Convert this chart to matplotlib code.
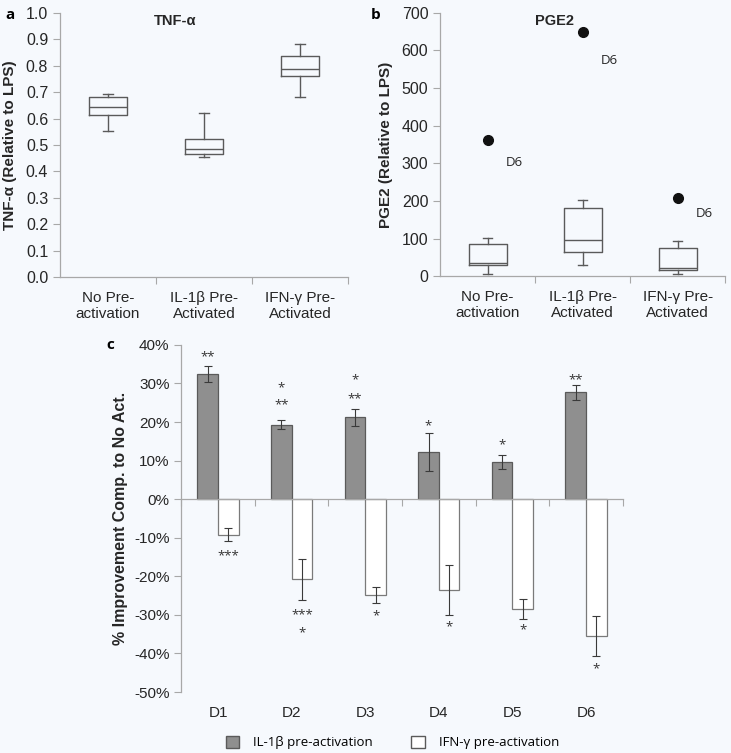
import matplotlib
matplotlib.use("Agg")
import matplotlib.pyplot as plt
from matplotlib.patches import Patch
import numpy as np

plt.rcParams['font.family'] = ['Liberation Sans', 'DejaVu Sans']
BG = '#f6f9fd'
SPINE = '#a8a8a8'
TXT = '#262626'
ALT = ['Open Sans', 'DejaVu Sans']

# panel a - TNF-alpha box stats
groups = ['No Pre-\nactivation', 'IL-1\u03b2 Pre-\nActivated', 'IFN-\u03b3 Pre-\nActivated']
tnf_low = [0.553, 0.453, 0.683]
tnf_q1 = [0.614, 0.466, 0.761]
tnf_med = [0.645, 0.484, 0.787]
tnf_q3 = [0.683, 0.523, 0.838]
tnf_high = [0.693, 0.622, 0.881]

# panel b - PGE2 box stats
pge_low = [7, 29, 5]
pge_q1 = [29, 66, 18]
pge_med = [36, 96, 22]
pge_q3 = [85, 182, 75]
pge_high = [102, 204, 93]
pge_outlier = [361, 649, 208]
pge_lab_y = [303, 572, 168]
pge_lab_dx = 0.28

# panel c - bars
donors = ['D1', 'D2', 'D3', 'D4', 'D5', 'D6']
il1b = [32.5, 19.3, 21.2, 12.2, 9.6, 27.7]
il1b_err = [2.0, 1.1, 2.2, 4.9, 1.9, 1.9]
ifng = [-9.2, -20.8, -24.8, -23.6, -28.5, -35.5]
ifng_err = [1.7, 5.3, 2.0, 6.5, 2.5, 5.1]
# significance stars: (donor index, series, y, text)
stars = [(0, 0, 36.8, '**'), (0, 1, -14.8, '***'),
         (1, 0, 29.0, '*'), (1, 0, 24.4, '**'), (1, 1, -30.0, '***'), (1, 1, -34.7, '*'),
         (2, 0, 31.0, '*'), (2, 0, 26.0, '**'), (2, 1, -30.3, '*'),
         (3, 0, 18.9, '*'), (3, 1, -33.0, '*'),
         (4, 0, 14.0, '*'), (4, 1, -34.0, '*'),
         (5, 0, 31.0, '**'), (5, 1, -44.0, '*')]


def make_stats(low, q1, med, q3, high, fl=None):
    out = []
    for i in range(len(low)):
        out.append(dict(whislo=low[i], q1=q1[i], med=med[i], q3=q3[i], whishi=high[i],
                        fliers=[] if fl is None else [fl[i]]))
    return out


def style_box_axes(ax):
    ax.set_facecolor(BG)
    for s in ['top', 'right']:
        ax.spines[s].set_visible(False)
    for s in ['left', 'bottom']:
        ax.spines[s].set_color(SPINE)
        ax.spines[s].set_linewidth(0.9)
    ax.set_xlim(0.5, 3.5)
    ax.set_xticks([1.5, 2.5, 3.5], minor=False)
    ax.set_xticklabels([])
    ax.set_xticks([1, 2, 3], minor=True)
    ax.set_xticklabels(groups, minor=True, fontsize=11, color=TXT)
    ax.tick_params(axis='x', which='minor', length=0, pad=10)
    ax.tick_params(axis='x', which='major', length=5, color=SPINE)
    ax.tick_params(axis='y', length=5, color=SPINE, labelsize=11.5, labelcolor=TXT)


fig = plt.figure(figsize=(7.31, 7.53), dpi=100)
fig.patch.set_facecolor(BG)

boxprops = dict(color='#5a5a5a', linewidth=1.0)
lineprops = dict(color='#5a5a5a', linewidth=1.0)

# ---- a
ax1 = fig.add_axes([0.082, 0.632, 0.394, 0.351])
ax1.bxp(make_stats(tnf_low, tnf_q1, tnf_med, tnf_q3, tnf_high), positions=[1, 2, 3],
        widths=0.4, showfliers=False, boxprops=boxprops, medianprops=lineprops,
        whiskerprops=lineprops, capprops=lineprops, capwidths=0.1)
style_box_axes(ax1)
ax1.set_ylim(0, 1.0)
ax1.set_yticks(np.arange(0, 1.01, 0.1))
ax1.set_yticklabels(['%.1f' % v for v in np.arange(0, 1.01, 0.1)])
ax1.set_ylabel('TNF-\u03b1 (Relative to LPS)', fontsize=11, fontweight='bold', color=TXT, labelpad=6)
ax1.text(0.4, 0.995, 'TNF-\u03b1', transform=ax1.transAxes, ha='center', va='top',
         fontsize=10.5, fontweight='bold', color=TXT)
fig.text(0.007, 0.99, 'a', fontsize=11, fontweight='bold', family=ALT, va='top')

# ---- b
ax2 = fig.add_axes([0.602, 0.633, 0.39, 0.35])
ax2.bxp(make_stats(pge_low, pge_q1, pge_med, pge_q3, pge_high, pge_outlier), positions=[1, 2, 3],
        widths=0.4, boxprops=boxprops, medianprops=lineprops, whiskerprops=lineprops,
        capprops=lineprops, capwidths=0.1,
        flierprops=dict(marker='o', markerfacecolor='#111111', markeredgecolor='#111111', markersize=7))
style_box_axes(ax2)
ax2.set_ylim(0, 700)
ax2.set_yticks(np.arange(0, 701, 100))
ax2.set_ylabel('PGE2 (Relative to LPS)', fontsize=11, fontweight='bold', color=TXT, labelpad=6)
ax2.text(0.4, 0.995, 'PGE2', transform=ax2.transAxes, ha='center', va='top',
         fontsize=10.5, fontweight='bold', color=TXT)
for i, y in enumerate(pge_lab_y):
    ax2.text(i + 1 + pge_lab_dx, y, 'D6', fontsize=9.5, family=ALT, color=TXT, ha='center', va='center')
fig.text(0.507, 0.99, 'b', fontsize=11, fontweight='bold', family=ALT, va='top')

# ---- c
ax3 = fig.add_axes([0.248, 0.081, 0.604, 0.461])
ax3.set_facecolor(BG)
x = np.arange(len(donors))
w = 0.28
ax3.bar(x - w / 2, il1b, w, color='#8f8f8f', edgecolor='#5a5a5a', linewidth=0.9, zorder=2)
ax3.bar(x + w / 2, ifng, w, color='white', edgecolor='#7a7a7a', linewidth=0.9, zorder=2)
ax3.errorbar(x - w / 2, il1b, yerr=il1b_err, fmt='none', ecolor='#3a3a3a', elinewidth=0.8,
             capsize=3, capthick=0.8, zorder=3)
ax3.errorbar(x + w / 2, ifng, yerr=ifng_err, fmt='none', ecolor='#3a3a3a', elinewidth=0.8,
             capsize=3, capthick=0.8, zorder=3)
for d, s, y, t in stars:
    xx = d - w / 2 if s == 0 else d + w / 2
    ax3.text(xx, y, t, ha='center', va='center', fontsize=9.5, family=ALT, color='#333333')
ax3.set_xlim(-0.5, len(donors) - 0.5)
ax3.set_ylim(-50, 40)
ax3.set_yticks(np.arange(-50, 41, 10))
ax3.set_yticklabels(['%d%%' % v for v in np.arange(-50, 41, 10)])
for s in ['top', 'right']:
    ax3.spines[s].set_visible(False)
ax3.spines['left'].set_color(SPINE)
ax3.spines['left'].set_linewidth(0.9)
ax3.spines['bottom'].set_position(('data', 0))
ax3.spines['bottom'].set_color(SPINE)
ax3.spines['bottom'].set_linewidth(0.9)
ax3.set_xticks(np.arange(len(donors) + 1) - 0.5)
ax3.set_xticklabels([])
ax3.tick_params(axis='x', length=5, color=SPINE)
ax3.tick_params(axis='y', length=5, color=SPINE, labelsize=11, labelcolor=TXT)
sec = ax3.secondary_xaxis('bottom')
sec.spines['bottom'].set_visible(False)
sec.set_xticks(x)
sec.set_xticklabels(donors, fontsize=11, color=TXT)
sec.tick_params(length=0, pad=10)
ax3.set_ylabel('% Improvement Comp. to No Act.', fontsize=11.5, fontweight='bold', color=TXT, labelpad=4)
fig.text(0.146, 0.542, 'c', fontsize=11, fontweight='bold', family=ALT, va='center')

handles = [Patch(facecolor='#8f8f8f', edgecolor='#5a5a5a'), Patch(facecolor='white', edgecolor='#5a5a5a')]
fig.legend(handles, ['IL-1\u03b2 pre-activation', 'IFN-\u03b3 pre-activation'], ncol=2,
           loc='center', bbox_to_anchor=(0.537, 0.014), frameon=False,
           prop={'family': ALT, 'size': 9.5}, handlelength=1.0, handleheight=1.0,
           columnspacing=2.9, handletextpad=1.1)

fig.savefig('out.png', dpi=100, facecolor=BG)
